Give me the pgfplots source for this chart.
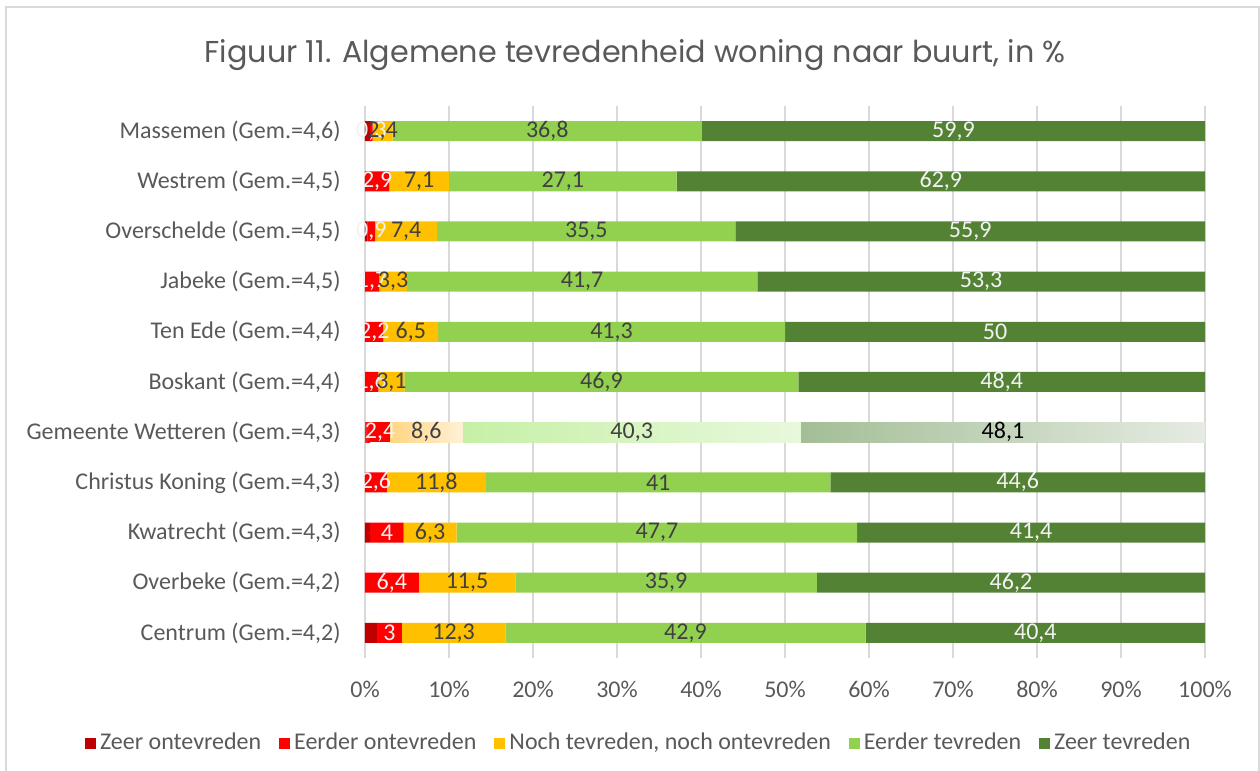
\documentclass[border=0pt]{standalone}
\usepackage{pgfplots}
\pgfplotsset{compat=1.18}
\usepackage{fontspec}
\setmainfont{Carlito}
\newfontfamily\titlefont{Poppins}
\definecolor{zo}{HTML}{C00000}
\definecolor{eo}{HTML}{FF0000}
\definecolor{nt}{HTML}{FFC000}
\definecolor{et}{HTML}{92D050}
\definecolor{zt}{HTML}{548235}
\definecolor{txt}{HTML}{595959}
\definecolor{lbl}{HTML}{404040}
\definecolor{wht}{HTML}{F2F2F2}
\definecolor{gridc}{HTML}{D9D9D9}
\pgfplotsset{
  base/.style={
    at={(182.5pt,56.5pt)}, anchor=south west,
    scale only axis, width=420pt, height=276pt,
    xmin=0, xmax=100, ymin=-0.5, ymax=10.5,
  },
  lab/.style={draw=none, mark=none, nodes near coords, point meta=explicit symbolic,
    nodes near coords align={center},
    every node near coord/.append style={anchor=center, inner sep=0pt, text=#1,
      font=\fontsize{12}{14}\selectfont}},
}
\begin{document}
\begin{tikzpicture}
\useasboundingbox (0,0) rectangle (630pt,385.5pt);
\begin{axis}[base, xbar stacked, bar width=10pt,
  axis line style={draw=none}, tick style={draw=none},
  xmajorgrids, grid style={gridc, line width=1pt},
  xtick={0,10,...,100},
  xticklabels={0\%,10\%,20\%,30\%,40\%,50\%,60\%,70\%,80\%,90\%,100\%},
  ytick={0,...,10},
  yticklabels={{Centrum (Gem.=4,2)},{Overbeke (Gem.=4,2)},{Kwatrecht (Gem.=4,3)},{Christus Koning (Gem.=4,3)},{Gemeente Wetteren (Gem.=4,3)},{Boskant (Gem.=4,4)},{Ten Ede (Gem.=4,4)},{Jabeke (Gem.=4,5)},{Overschelde (Gem.=4,5)},{Westrem (Gem.=4,5)},{Massemen (Gem.=4,6)}},
  tick label style={text=txt, font=\fontsize{12}{14}\selectfont},
  yticklabel style={anchor=east, inner sep=0pt, xshift=-12pt},
  xticklabel style={anchor=north, inner sep=0pt, yshift=-11.5pt},
  legend columns=5,
  legend image code/.code={\fill[#1,draw=none] (0pt,-2.75pt) rectangle (5.5pt,2.75pt);},
  legend style={at={(0.327,-0.154)}, anchor=center, draw=none, fill=none,
    font=\fontsize{12}{14}\selectfont, text=txt,
    /tikz/every even column/.append style={column sep=7pt}},
]
\addplot[fill=zo, draw=none] coordinates {(0.6,10) (0,9) (0.3,8) (0,7) (0,6) (0,5) (0,3) (0.6,2) (0,1) (1.4,0)};
\addplot[fill=eo, draw=none] coordinates {(0.3,10) (2.9,9) (0.9,8) (1.7,7) (2.2,6) (1.6,5) (2.6,3) (4,2) (6.4,1) (3,0)};
\addplot[fill=nt, draw=none] coordinates {(2.4,10) (7.1,9) (7.4,8) (3.3,7) (6.5,6) (3.1,5) (11.8,3) (6.3,2) (11.5,1) (12.3,0)};
\addplot[fill=et, draw=none] coordinates {(36.8,10) (27.1,9) (35.5,8) (41.7,7) (41.3,6) (46.9,5) (41,3) (47.7,2) (35.9,1) (42.9,0)};
\addplot[fill=zt, draw=none] coordinates {(59.9,10) (62.9,9) (55.9,8) (53.3,7) (50,6) (48.4,5) (44.6,3) (41.4,2) (46.2,1) (40.4,0)};
\legend{Zeer ontevreden, Eerder ontevreden, {Noch tevreden, noch ontevreden}, Eerder tevreden, Zeer tevreden}
\end{axis}
% Gemeente Wetteren (highlighted row)
\begin{axis}[base, xbar stacked, bar width=10pt, hide axis]
\addplot[draw=none, left color=eo!85!white, right color=eo] coordinates {(0.6,4)};
\addplot[draw=none, fill=eo] coordinates {(2.4,4)};
\addplot[draw=none, left color={rgb,255:red,255;green,214;blue,130}, right color={rgb,255:red,255;green,240;blue,214}] coordinates {(8.6,4)};
\addplot[draw=none, left color={rgb,255:red,198;green,240;blue,166}, right color={rgb,255:red,232;green,248;blue,220}] coordinates {(40.3,4)};
\addplot[draw=none, left color={rgb,255:red,163;green,190;blue,149}, right color={rgb,255:red,230;green,235;blue,227}] coordinates {(48.1,4)};
\end{axis}
% data labels
\begin{axis}[base, hide axis, clip=false]
\addplot[lab=wht] coordinates {(0.75,10) [0,3] (1.45,9) [2,9] (0.75,8) [0,9] (0.85,7) [1,7] (1.1,6) [2,2] (0.8,5) [1,6] (1.8,4) [2,4] (1.3,3) [2,6] (2.6,2) [4] (3.2,1) [6,4] (2.9,0) [3]};
\addplot[lab=lbl] coordinates {(2.1,10) [2,4] (6.45,9) [7,1] (4.9,8) [7,4] (3.35,7) [3,3] (5.45,6) [6,5] (3.15,5) [3,1] (7.3,4) [8,6] (8.5,3) [11,8] (7.75,2) [6,3] (12.15,1) [11,5] (10.55,0) [12,3]};
\addplot[lab=lbl] coordinates {(21.7,10) [36,8] (23.55,9) [27,1] (26.35,8) [35,5] (25.85,7) [41,7] (29.35,6) [41,3] (28.15,5) [46,9] (31.75,4) [40,3] (34.9,3) [41] (34.75,2) [47,7] (35.85,1) [35,9] (38.15,0) [42,9]};
\addplot[lab=wht] coordinates {(70.05,10) [59,9] (68.55,9) [62,9] (72.05,8) [55,9] (73.35,7) [53,3] (75,6) [50] (75.8,5) [48,4] (77.7,3) [44,6] (79.3,2) [41,4] (76.9,1) [46,2] (79.8,0) [40,4]};
\addplot[lab=black] coordinates {(75.95,4) [48,1]};
\end{axis}
\node[font=\titlefont\fontsize{15.1}{18}\selectfont, text=txt] at (317.5pt,358pt) {Figuur 11. Algemene tevredenheid woning naar buurt, in \%};
\draw[gridc, line width=1pt] (3pt,-2pt) rectangle (629.5pt,382pt);
\end{tikzpicture}
\end{document}
